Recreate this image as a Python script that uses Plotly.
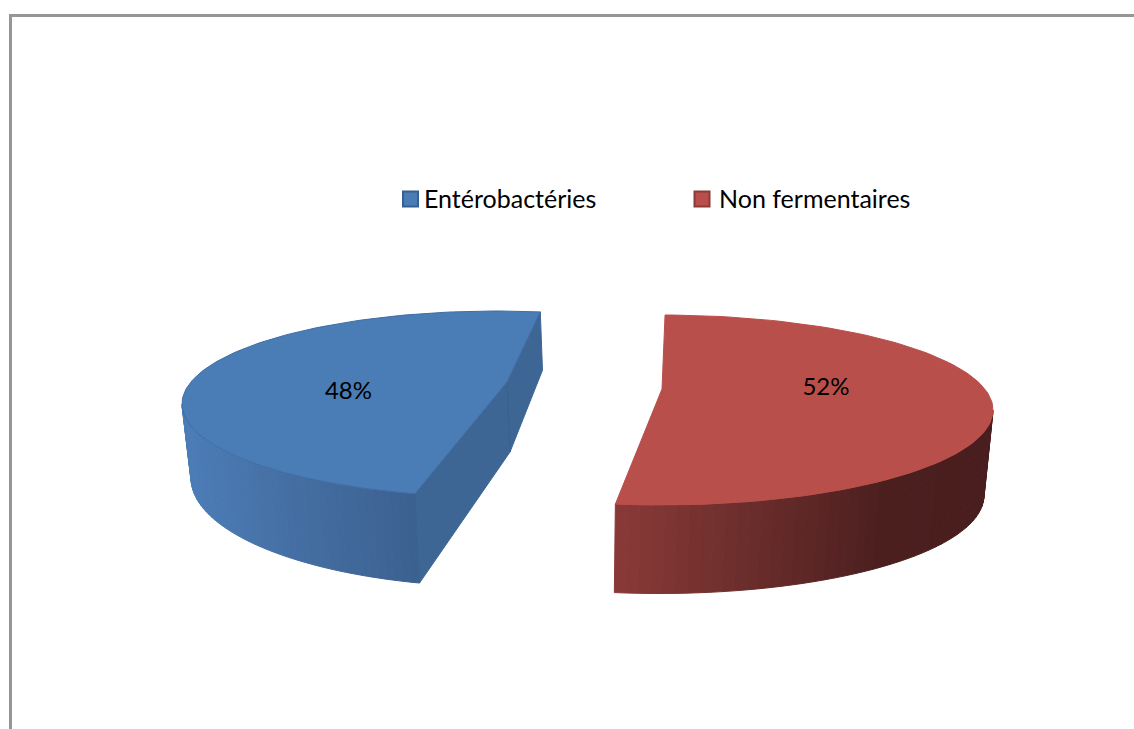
import math
import plotly.graph_objects as go

# ---- data ----
categories = ["Entérobactéries", "Non fermentaires"]
shares = [48, 52]
top_colors = ["#4A7CB6", "#B84F4B"]
legend_border = ["#36608F", "#8C3A37"]

# ---- projection of each exploded slice (pixel-space axes) ----
W, H = 1134, 729
start_angle = [195.1, 0.7]
apex_top = [(507, 382), (662, 389)]
apex_bot = [(510, 452), (662, 470)]
ell_top = [(497, 404, 315, 93), (661, 410, 332, 95)]
ell_bot = [(500, 478, 309, 108.8), (659, 495.5, 325, 98)]
wall_from = [270, 90]          # where the outer wall starts being visible
wall_stops = [
    [(190, (76, 124, 182)), (300, (68, 110, 162)), (420, (59, 96, 143))],
    [(614, (138, 58, 56)), (760, (104, 44, 42)), (880, (76, 31, 31)), (990, (74, 30, 30))],
]
face_color = "#3E6695"
rim_colors = ["#3F6DA3", "#B84F4B"]
label_xy = [(348.5, 392.5), (826, 389)]
legend_marker_xy = [(410.5, 199), (702, 199)]
legend_text_xy = [(424, 201.5), (719, 201.5)]


def pt(e, deg):
    cx, cy, rx, ry = e
    t = math.radians(deg)
    return cx + rx * math.sin(t), cy - ry * math.cos(t)


def arc(e, a, b, n):
    return [pt(e, a + (b - a) * i / n) for i in range(n + 1)]


def grad(stops, x):
    if x <= stops[0][0]:
        c = stops[0][1]
    elif x >= stops[-1][0]:
        c = stops[-1][1]
    else:
        for (x0, c0), (x1, c1) in zip(stops, stops[1:]):
            if x0 <= x <= x1:
                f = (x - x0) / (x1 - x0)
                c = tuple(c0[k] + (c1[k] - c0[k]) * f for k in range(3))
                break
    return "rgb(%d,%d,%d)" % tuple(round(v) for v in c)


def poly(fig, pts, fill, line=None, lw=1):
    xs = [p[0] for p in pts] + [pts[0][0]]
    ys = [p[1] for p in pts] + [pts[0][1]]
    fig.add_trace(go.Scatter(
        x=xs, y=ys, mode="lines", fill="toself", fillcolor=fill,
        line=dict(color=line or fill, width=lw), hoverinfo="skip", showlegend=False))


fig = go.Figure()

for i, share in enumerate(shares):
    a0 = start_angle[i]
    a1 = a0 + share * 3.6
    et, eb = ell_top[i], ell_bot[i]

    # cut faces of the blue slice are the ones turned toward the viewer
    if i == 0:
        poly(fig, [apex_top[i], pt(et, a1), pt(eb, a1), apex_bot[i]], face_color)
        poly(fig, [apex_top[i], pt(et, a0), pt(eb, a0), apex_bot[i]], face_color)
        fig.add_trace(go.Scatter(
            x=[apex_top[i][0], apex_bot[i][0]], y=[apex_top[i][1], apex_bot[i][1]],
            mode="lines", line=dict(color="#3A6190", width=1),
            hoverinfo="skip", showlegend=False))

    # outer wall as a strip gradient
    wall_a0, wall_a1 = (a0, wall_from[i]) if i == 0 else (wall_from[i], a1)
    n = 46
    for k in range(n):
        b0 = wall_a0 + (wall_a1 - wall_a0) * k / n
        b1 = wall_a0 + (wall_a1 - wall_a0) * (k + 1) / n
        p = [pt(et, b0), pt(et, b1), pt(eb, b1), pt(eb, b0)]
        xm = sum(q[0] for q in p) / 4
        poly(fig, p, grad(wall_stops[i], xm))

    # top surface
    poly(fig, [apex_top[i]] + arc(et, a0, a1, 120), top_colors[i], rim_colors[i], 1)

    # percentage label
    fig.add_trace(go.Scatter(
        x=[label_xy[i][0]], y=[label_xy[i][1]], mode="text", text=[f"{share}%"],
        textfont=dict(family="Lato, Carlito, sans-serif", size=24, color="#000000"),
        hoverinfo="skip", showlegend=False))

    # legend entry
    fig.add_trace(go.Scatter(
        x=[legend_marker_xy[i][0]], y=[legend_marker_xy[i][1]], mode="markers",
        marker=dict(symbol="square", size=15, color=top_colors[i],
                    line=dict(color=legend_border[i], width=2)),
        name=categories[i], hoverinfo="skip", showlegend=False))
    fig.add_trace(go.Scatter(
        x=[legend_text_xy[i][0]], y=[legend_text_xy[i][1]], mode="text",
        text=[categories[i]], textposition="middle right",
        textfont=dict(family="Lato, Carlito, sans-serif", size=25, color="#000000"),
        hoverinfo="skip", showlegend=False))

frame = dict(type="line", xref="x", yref="y", line=dict(color="#969696", width=3))
fig.update_layout(
    width=W, height=H, margin=dict(l=0, r=0, t=0, b=0),
    paper_bgcolor="#FFFFFF", plot_bgcolor="#FFFFFF", showlegend=False,
    xaxis=dict(range=[0, W], visible=False, fixedrange=True),
    yaxis=dict(range=[H, 0], visible=False, fixedrange=True),
    shapes=[dict(frame, x0=10.5, x1=10.5, y0=14, y1=H),
            dict(frame, x0=9, x1=W, y0=15.5, y1=15.5)],
)

fig.write_html("out.html", config={"displayModeBar": False},
               post_script="document.body.style.margin='0';")
